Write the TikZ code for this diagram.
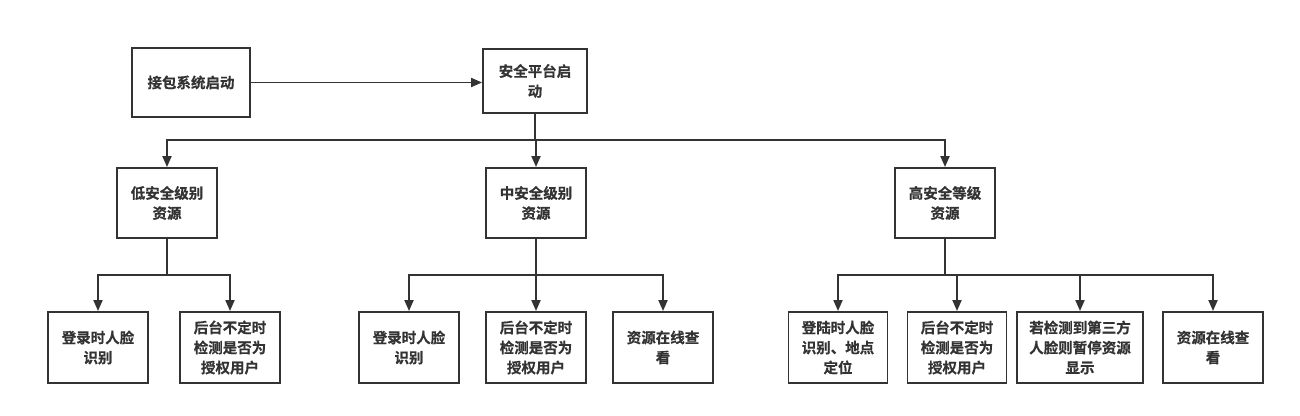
\documentclass[tikz,border=0pt]{standalone}
\usepackage{fontspec}
\newfontfamily\cjk{Noto Sans CJK SC Bold}[FakeBold=0.6]
\usetikzlibrary{arrows.meta}
\definecolor{ln}{HTML}{333333}
\tikzset{
  box/.style={draw=ln, line width=1.9pt, align=center, inner sep=0pt,
    font=\cjk\fontsize{14.5}{20}\selectfont, text=ln},
  arr/.style={draw=ln, line width=1.9pt, -{Triangle[length=11pt,width=9pt]}},
  trunk/.style={draw=ln, line width=1.9pt},
}
\begin{document}
\begin{tikzpicture}[x=1pt,y=-1pt]
\useasboundingbox (0,0) rectangle (1300,415);
\node[box, minimum width=118pt, minimum height=69pt] (start) at (191,82.5) {接包系统启动};
\node[box, minimum width=104pt, minimum height=64pt] (plat) at (535,81) {安全平台启\\动};
\node[box, minimum width=100pt, minimum height=70pt] (low) at (167,203) {低安全级别\\资源};
\node[box, minimum width=100pt, minimum height=70pt] (mid) at (536,203) {中安全级别\\资源};
\node[box, minimum width=100pt, minimum height=70pt] (high) at (945,203) {高安全等级\\资源};
\node[box, minimum width=100pt, minimum height=71pt] (l1) at (98,347.5) {登录时人脸\\识别};
\node[box, minimum width=100pt, minimum height=71pt] (l2) at (230,347.5) {后台不定时\\检测是否为\\授权用户};
\node[box, minimum width=100pt, minimum height=71pt] (m1) at (409,347.5) {登录时人脸\\识别};
\node[box, minimum width=100pt, minimum height=71pt] (m2) at (536,347.5) {后台不定时\\检测是否为\\授权用户};
\node[box, minimum width=100pt, minimum height=71pt] (m3) at (663,347.5) {资源在线查\\看};
\node[box, minimum width=99pt, minimum height=71pt] (h1) at (838,347.5) {登陆时人脸\\识别、地点\\定位};
\node[box, minimum width=99pt, minimum height=71pt] (h2) at (957,347.5) {后台不定时\\检测是否为\\授权用户};
\node[box, minimum width=126pt, minimum height=71pt] (h3) at (1080,347.5) {若检测到第三方\\人脸则暂停资源\\显示};
\node[box, minimum width=100pt, minimum height=71pt] (h4) at (1213,347.5) {资源在线查\\看};
\coordinate (j0) at (535,140);
\coordinate (jl) at (167,275);
\coordinate (jm) at (536,275);
\coordinate (jh) at (945,275);
\draw[arr] (start.east) -- (start.east -| plat.west);
\draw[trunk] (plat.south) -- (j0);
\draw[arr] (j0) -| (low.north);
\draw[arr] (j0) -| (mid.north);
\draw[arr] (j0) -| (high.north);
\draw[trunk] (low.south) -- (jl);
\draw[arr] (jl) -| (l1.north);
\draw[arr] (jl) -| (l2.north);
\draw[trunk] (mid.south) -- (jm);
\draw[arr] (jm) -| (m1.north);
\draw[arr] (jm) -- (m2.north);
\draw[arr] (jm) -| (m3.north);
\draw[trunk] (high.south) -- (jh);
\draw[arr] (jh) -| (h1.north);
\draw[arr] (jh) -| (h2.north);
\draw[arr] (jh) -| (h3.north);
\draw[arr] (jh) -| (h4.north);
\end{tikzpicture}
\end{document}
